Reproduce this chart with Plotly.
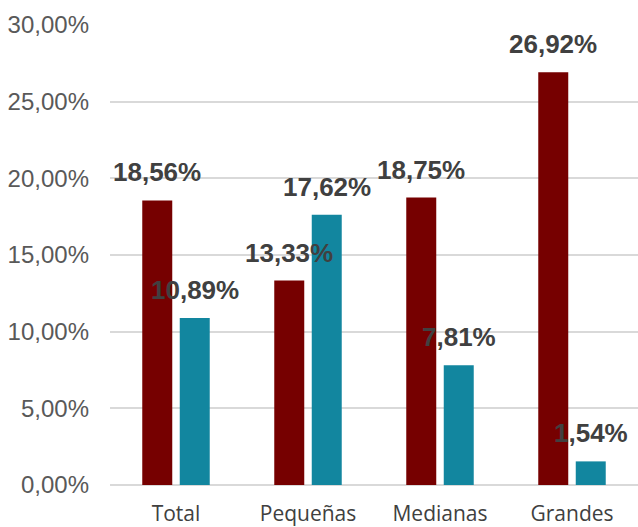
import plotly.graph_objects as go

categories = ["Total", "Pequeñas", "Medianas", "Grandes"]
serie_a = [0.1856, 0.1333, 0.1875, 0.2692]
serie_b = [0.1089, 0.1762, 0.0781, 0.0154]
y_range = [0, 0.30]

color_a = "#760000"
color_b = "#12869F"

def fmt(v):
    return f"{v*100:.2f}%".replace(".", ",")

fig = go.Figure()
fig.add_trace(go.Bar(x=categories, y=serie_a, marker=dict(color=color_a, line=dict(width=0)),
                     name="A", hoverinfo="skip"))
fig.add_trace(go.Bar(x=categories, y=serie_b, marker=dict(color=color_b, line=dict(width=0)),
                     name="B", hoverinfo="skip"))

annotations = []
for series, shift in ((serie_a, -18.75), (serie_b, 18.75)):
    for c, v in zip(categories, series):
        annotations.append(dict(
            x=c, y=v, xref="x", yref="y", text=fmt(v), showarrow=False,
            xanchor="center", yanchor="bottom", xshift=shift, yshift=11,
            font=dict(family="Liberation Sans, Arial", size=26, color="#404040", weight="bold"),
        ))

fig.update_layout(
    width=638, height=527,
    margin=dict(l=110, r=0, t=25, b=42),
    paper_bgcolor="white", plot_bgcolor="white",
    barmode="group", bargap=0.432, bargroupgap=0.2,
    showlegend=False,
    separators=",.",
    annotations=annotations,
)
fig.update_yaxes(
    range=y_range, dtick=0.05, tickformat=".2%",
    showgrid=True, gridcolor="#D9D9D9", gridwidth=1.5,
    zeroline=True, zerolinecolor="#D9D9D9", zerolinewidth=1.5,
    showline=False, ticks="",
    tickfont=dict(family="Liberation Sans, Arial", size=24, color="#595959"),
    ticklabelstandoff=20,
)
fig.update_xaxes(
    showline=False, ticks="",
    tickfont=dict(family="Open Sans", size=21, color="#404040"),
    ticklabelstandoff=14,
)

fig.write_html("out.html")
